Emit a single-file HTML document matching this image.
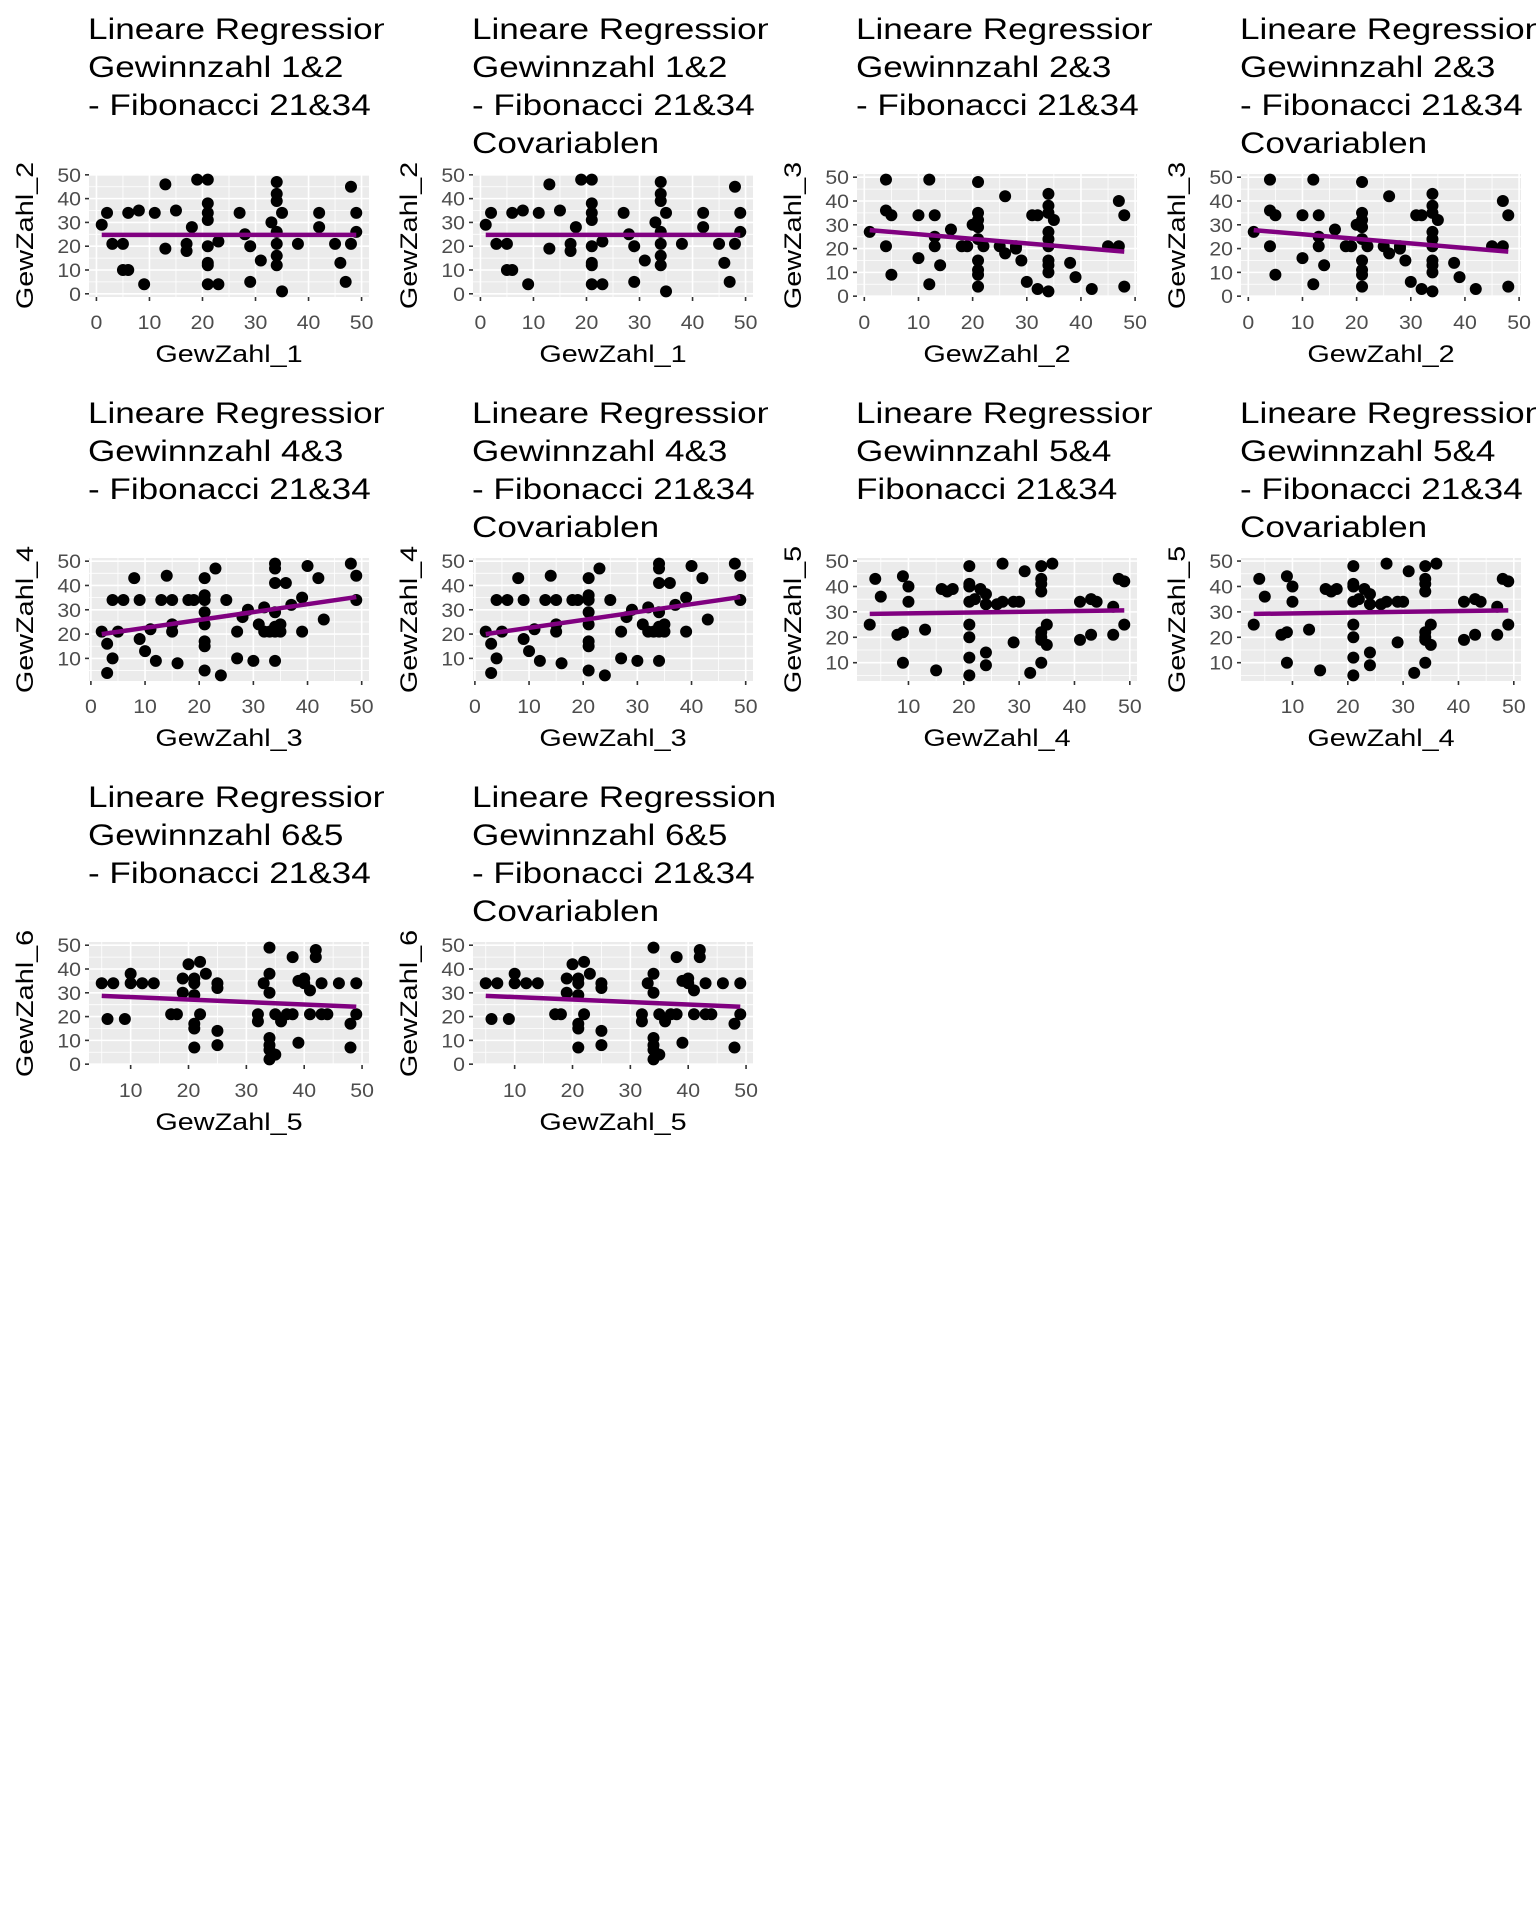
<!DOCTYPE html>
<html><head><meta charset="utf-8">
<style>
html,body{margin:0;padding:0;background:#fff;}
svg{display:block;}
text{font-family:"Liberation Sans",Arial,sans-serif;}
</style></head>
<body>
<svg id="fig" width="1536" height="1920" viewBox="0 0 1536 1920" xmlns="http://www.w3.org/2000/svg">
<rect width="1536" height="1920" fill="#fff"/>
</svg>
<script>
// ---- data: Gewinnzahl pairs (x = first, y = second) ----
const d12x = [1,2,3,5,5,6,6,8,9,11,13,13,15,17,17,18,19,21,21,21,21,21,21,21,21,23,23,27,28,29,29,31,33,34,34,34,34,34,34,34,35,35,38,42,42,45,46,47,48,48,49,49];
const d12y = [29,34,21,21,10,10,34,35,4,34,46,19,35,21,18,28,48,48,38,34,31,20,13,12,4,22,4,34,25,20,5,14,30,47,42,39,26,21,16,12,34,1,21,34,28,21,13,5,45,21,34,26];
const d23x = [1,4,4,5,4,5,10,10,12,12,13,13,13,14,16,18,19,20,21,21,21,21,21,21,21,21,21,22,25,26,26,28,28,29,30,31,32,32,34,34,34,34,34,34,34,34,34,34,35,38,39,42,45,47,47,48,48];
const d23y = [27,49,36,34,21,9,34,16,49,5,34,25,21,13,28,21,21,30,48,35,32,29,24,15,11,9,4,21,21,42,18,21,20,15,6,34,34,3,43,38,35,27,24,21,15,13,10,2,32,14,8,3,21,21,40,34,4];
const d34x = [2,3,3,4,4,5,6,8,9,9,10,11,12,13,14,15,15,15,16,18,19,21,21,21,21,21,21,21,21,23,24,25,27,27,28,29,30,31,32,32,33,34,34,34,34,34,34,34,35,35,36,37,39,39,40,42,43,48,49,49];
const d34y = [21,16,4,10,34,21,34,43,18,34,13,22,9,34,44,34,24,21,8,34,34,43,36,34,29,24,17,15,5,47,3,34,21,10,27,30,9,24,31,21,21,49,47,41,29,23,21,9,24,21,41,32,35,21,48,43,26,49,44,34];
const d45x = [3,4,5,8,9,9,9,10,10,13,15,16,17,18,21,21,21,21,21,21,21,21,22,23,24,24,24,24,26,27,27,29,29,30,31,32,34,34,34,34,34,34,34,34,35,35,36,41,41,43,44,43,47,47,48,49,49];
const d45y = [25,43,36,21,22,44,10,40,34,23,7,39,38,39,48,41,40,34,25,20,12,5,35,39,37,33,14,9,33,49,34,18,34,34,46,6,48,43,41,38,10,22,20,19,25,17,49,34,19,35,34,21,32,21,43,42,25];
const d56x = [5,6,7,9,10,10,12,14,17,18,19,19,20,21,21,21,21,21,21,22,22,23,25,25,25,25,32,32,33,34,34,34,34,34,34,34,35,35,36,37,38,38,39,39,40,40,41,41,42,42,43,43,44,46,48,48,49,49];
const d56y = [34,19,34,19,38,34,34,34,21,21,30,36,42,36,34,29,17,15,7,43,21,38,34,32,14,8,21,18,34,49,38,30,11,8,6,2,21,4,18,21,21,45,35,9,36,34,31,21,48,45,34,21,21,34,17,7,21,34];
const xLabels = ["GewZahl_1","GewZahl_1","GewZahl_2","GewZahl_2","GewZahl_3","GewZahl_3","GewZahl_4","GewZahl_4","GewZahl_5","GewZahl_5"];
const yLabels = ["GewZahl_2","GewZahl_2","GewZahl_3","GewZahl_3","GewZahl_4","GewZahl_4","GewZahl_5","GewZahl_5","GewZahl_6","GewZahl_6"];
const titleLines = [
 ["Lineare Regression","Gewinnzahl 1&2","- Fibonacci 21&34"],
 ["Lineare Regression","Gewinnzahl 1&2","- Fibonacci 21&34","Covariablen"],
 ["Lineare Regression","Gewinnzahl 2&3","- Fibonacci 21&34"],
 ["Lineare Regression","Gewinnzahl 2&3","- Fibonacci 21&34","Covariablen"],
 ["Lineare Regression","Gewinnzahl 4&3","- Fibonacci 21&34"],
 ["Lineare Regression","Gewinnzahl 4&3","- Fibonacci 21&34","Covariablen"],
 ["Lineare Regression","Gewinnzahl 5&4","Fibonacci 21&34"],
 ["Lineare Regression","Gewinnzahl 5&4","- Fibonacci 21&34","Covariablen"],
 ["Lineare Regression","Gewinnzahl 6&5","- Fibonacci 21&34"],
 ["Lineare Regression","Gewinnzahl 6&5","- Fibonacci 21&34","Covariablen"]
];
const panelX = [d12x,d12x,d23x,d23x,d34x,d34x,d45x,d45x,d56x,d56x];
const panelY = [d12y,d12y,d23y,d23y,d34y,d34y,d45y,d45y,d56y,d56y];

const NS = "http://www.w3.org/2000/svg";
const svg = document.getElementById('fig');
function mk(tag, attrs, parent){
  const e = document.createElementNS(NS, tag);
  for (const k in attrs) e.setAttribute(k, attrs[k]);
  (parent||svg).appendChild(e);
  return e;
}
const defs = mk('defs',{});

for (let p = 0; p < 10; p++) {
  const col = p % 4, row = Math.floor(p / 4);
  const ox = col * 384, oy = row * 384;
  const g = mk('g', {transform: `translate(${ox},${oy})`});
  
  
  const cp = mk('clipPath', {id: 'clip' + p}, defs);
  mk('rect', {x: 0, y: 0, width: p === 9 ? 500 : 384, height: 384}, cp);

  const xs = panelX[p], ys = panelY[p];
  const xmin = Math.min(...xs), xmax = Math.max(...xs);
  const ymin = Math.min(...ys), ymax = Math.max(...ys);
  const xl = xmin - 0.05*(xmax-xmin), xh = xmax + 0.05*(xmax-xmin);
  const yl = ymin - 0.05*(ymax-ymin), yh = ymax + 0.05*(ymax-ymin);
  const L = 89, R = 369, T = 174, B = 297;
  const sx = v => L + (v - xl) / (xh - xl) * (R - L);
  const sy = v => B - (v - yl) / (yh - yl) * (B - T);

  // title
  const tg = mk('g', {'clip-path': `url(#clip${p})`}, g);
  titleLines[p].forEach((t, i) => {
    const te = mk('text', {x: 0, y: 0, 'font-size': 30, fill: '#000', transform: `translate(88,${39 + i*38}) scale(1.17,1)`}, tg);
    
    
    te.textContent = t;
  });

  const bg = mk('rect', {x: L, y: T, width: R-L, height: B-T, fill: '#ebebeb'}, g);
  
  

  const xt = [], yt = [];
  for (let v = 0; v <= 50; v += 10) { if (v >= xl && v <= xh) xt.push(v); if (v >= yl && v <= yh) yt.push(v); }
  for (let v = -5; v <= 55; v += 10) {
    if (v > xl && v < xh) mk('line', {x1: sx(v), x2: sx(v), y1: T, y2: B, stroke: '#fff', 'stroke-width': 0.8}, g);
    if (v > yl && v < yh) mk('line', {x1: L, x2: R, y1: sy(v), y2: sy(v), stroke: '#fff', 'stroke-width': 0.8}, g);
  }
  xt.forEach(v => mk('line', {x1: sx(v), x2: sx(v), y1: T, y2: B, stroke: '#fff', 'stroke-width': 1.6}, g));
  yt.forEach(v => mk('line', {x1: L, x2: R, y1: sy(v), y2: sy(v), stroke: '#fff', 'stroke-width': 1.6}, g));

  xt.forEach(v => {
    mk('line', {x1: sx(v), x2: sx(v), y1: B, y2: B+4, stroke: '#333', 'stroke-width': 1.6}, g);
    const te = mk('text', {x: 0, y: 0, 'font-size': 19, fill: '#4d4d4d', 'text-anchor': 'middle', transform: `translate(${sx(v)},329) scale(1.12,1)`}, g);
    
    
    te.textContent = v;
  });
  yt.forEach(v => {
    mk('line', {x1: L-4, x2: L, y1: sy(v), y2: sy(v), stroke: '#333', 'stroke-width': 1.6}, g);
    const te = mk('text', {x: 0, y: 0, 'font-size': 19, fill: '#4d4d4d', 'text-anchor': 'end', transform: `translate(81,${sy(v) + 7}) scale(1.12,1)`}, g);
    
    
    te.textContent = v;
  });

  const xa = mk('text', {x: 0, y: 0, 'font-size': 24, fill: '#000', 'text-anchor': 'middle', transform: `translate(${(L+R)/2},362) scale(1.2,1)`}, g);
  
  
  xa.textContent = xLabels[p];
  const ya = mk('text', {x: 0, y: 0, 'font-size': 24, fill: '#000', 'text-anchor': 'middle', transform: `translate(33,${(T+B)/2}) rotate(-90) scale(1.2,1)`}, g);
  
  
  ya.textContent = yLabels[p];

  for (let i = 0; i < xs.length; i++) {
    const c = mk('circle', {cx: sx(xs[i]), cy: sy(ys[i]), r: 6, fill: '#000'}, g);
    
    
  }
  const n = xs.length;
  const mx = xs.reduce((a,b)=>a+b,0)/n, my = ys.reduce((a,b)=>a+b,0)/n;
  let sxy = 0, sxx = 0;
  for (let i = 0; i < n; i++) { sxy += (xs[i]-mx)*(ys[i]-my); sxx += (xs[i]-mx)**2; }
  const b = sxy / sxx, a = my - b*mx;
  const ln = mk('line', {x1: sx(xmin), y1: sy(a + b*xmin), x2: sx(xmax), y2: sy(a + b*xmax), stroke: '#800080', 'stroke-width': 4.5}, g);
  
  
}
</script>
</body></html>
